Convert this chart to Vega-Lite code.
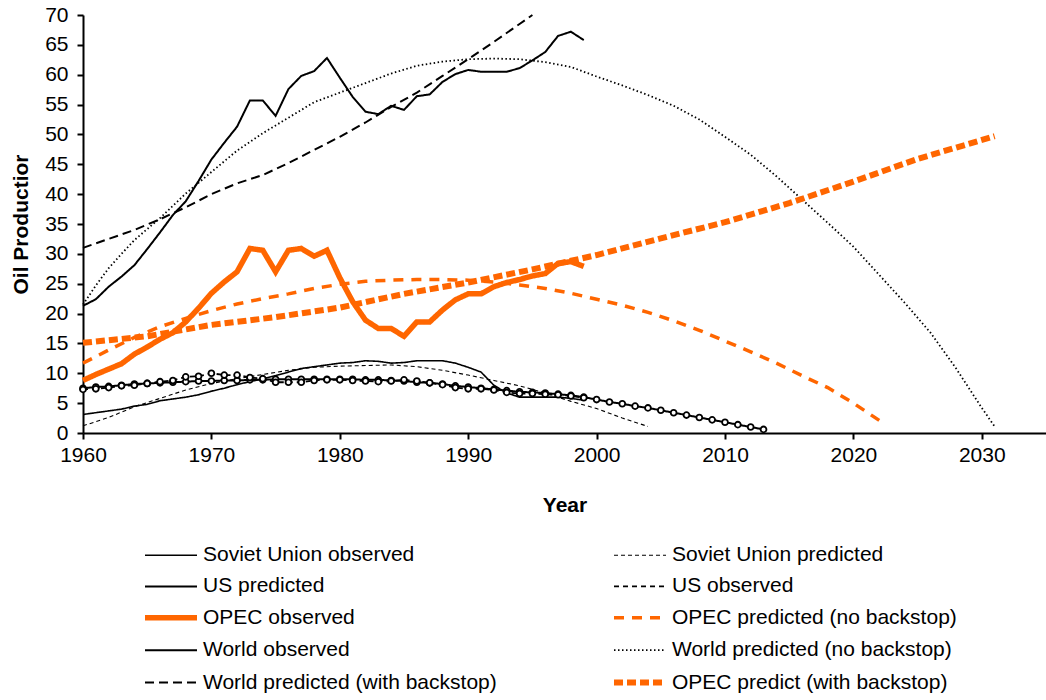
{
  "$schema": "https://vega.github.io/schema/vega-lite/v6.json",
  "width": 963,
  "height": 418,
  "autosize": {"type": "none"},
  "padding": {"left": 83, "top": 15, "right": 0, "bottom": 267},
  "background": "white",
  "config": {
    "view": {"stroke": null},
    "font": "Liberation Sans",
    "axis": {
      "domainColor": "black", "domainWidth": 2, "tickColor": "black", "tickWidth": 2, "tickSize": 6,
      "labelFont": "Liberation Sans", "labelFontSize": 21, "labelColor": "black",
      "titleFont": "Liberation Sans", "titleFontSize": 21, "titleFontWeight": "bold", "titleColor": "black",
      "grid": false
    }
  },
  "data": {"values": [
    {"s":"Soviet Union observed","x":1960,"v":3.1},{"s":"Soviet Union observed","x":1961,"v":3.4},{"s":"Soviet Union observed","x":1962,"v":3.7},{"s":"Soviet Union observed","x":1963,"v":4.0},{"s":"Soviet Union observed","x":1964,"v":4.5},{"s":"Soviet Union observed","x":1965,"v":4.8},{"s":"Soviet Union observed","x":1966,"v":5.4},{"s":"Soviet Union observed","x":1967,"v":5.7},{"s":"Soviet Union observed","x":1968,"v":6.0},{"s":"Soviet Union observed","x":1969,"v":6.4},{"s":"Soviet Union observed","x":1970,"v":7.0},{"s":"Soviet Union observed","x":1971,"v":7.5},{"s":"Soviet Union observed","x":1972,"v":8.1},{"s":"Soviet Union observed","x":1973,"v":8.6},{"s":"Soviet Union observed","x":1974,"v":9.1},{"s":"Soviet Union observed","x":1975,"v":9.6},{"s":"Soviet Union observed","x":1976,"v":10.2},{"s":"Soviet Union observed","x":1977,"v":10.8},{"s":"Soviet Union observed","x":1978,"v":11.1},{"s":"Soviet Union observed","x":1979,"v":11.4},{"s":"Soviet Union observed","x":1980,"v":11.7},{"s":"Soviet Union observed","x":1981,"v":11.8},{"s":"Soviet Union observed","x":1982,"v":12.1},{"s":"Soviet Union observed","x":1983,"v":12.0},{"s":"Soviet Union observed","x":1984,"v":11.7},{"s":"Soviet Union observed","x":1985,"v":11.8},{"s":"Soviet Union observed","x":1986,"v":12.1},{"s":"Soviet Union observed","x":1987,"v":12.1},{"s":"Soviet Union observed","x":1988,"v":12.1},{"s":"Soviet Union observed","x":1989,"v":11.7},{"s":"Soviet Union observed","x":1990,"v":11.0},{"s":"Soviet Union observed","x":1991,"v":10.2},{"s":"Soviet Union observed","x":1992,"v":8.0},{"s":"Soviet Union observed","x":1993,"v":6.7},{"s":"Soviet Union observed","x":1994,"v":6.0},{"s":"Soviet Union observed","x":1995,"v":6.0},{"s":"Soviet Union observed","x":1996,"v":6.0},{"s":"Soviet Union observed","x":1997,"v":6.0},{"s":"Soviet Union observed","x":1998,"v":5.8},{"s":"Soviet Union observed","x":1999,"v":5.5},

    {"s":"Soviet Union predicted","x":1960,"v":1.2},{"s":"Soviet Union predicted","x":1962,"v":2.6},{"s":"Soviet Union predicted","x":1964,"v":4.4},{"s":"Soviet Union predicted","x":1966,"v":5.8},{"s":"Soviet Union predicted","x":1968,"v":7.2},{"s":"Soviet Union predicted","x":1970,"v":8.3},{"s":"Soviet Union predicted","x":1972,"v":9.1},{"s":"Soviet Union predicted","x":1974,"v":9.8},{"s":"Soviet Union predicted","x":1976,"v":10.5},{"s":"Soviet Union predicted","x":1978,"v":11.0},{"s":"Soviet Union predicted","x":1980,"v":11.2},{"s":"Soviet Union predicted","x":1982,"v":11.3},{"s":"Soviet Union predicted","x":1984,"v":11.4},{"s":"Soviet Union predicted","x":1986,"v":11.1},{"s":"Soviet Union predicted","x":1988,"v":10.5},{"s":"Soviet Union predicted","x":1990,"v":9.7},{"s":"Soviet Union predicted","x":1992,"v":8.8},{"s":"Soviet Union predicted","x":1994,"v":7.9},{"s":"Soviet Union predicted","x":1996,"v":6.7},{"s":"Soviet Union predicted","x":1998,"v":5.3},{"s":"Soviet Union predicted","x":2000,"v":4.1},{"s":"Soviet Union predicted","x":2002,"v":2.5},{"s":"Soviet Union predicted","x":2004,"v":1.1},

    {"s":"US predicted","x":1960,"v":7.5},{"s":"US predicted","x":1961,"v":7.7},{"s":"US predicted","x":1962,"v":7.8},{"s":"US predicted","x":1963,"v":8.0},{"s":"US predicted","x":1964,"v":8.2},{"s":"US predicted","x":1965,"v":8.3},{"s":"US predicted","x":1966,"v":8.4},{"s":"US predicted","x":1967,"v":8.5},{"s":"US predicted","x":1968,"v":8.6},{"s":"US predicted","x":1969,"v":8.7},{"s":"US predicted","x":1970,"v":8.7},{"s":"US predicted","x":1971,"v":8.8},{"s":"US predicted","x":1972,"v":8.8},{"s":"US predicted","x":1973,"v":8.9},{"s":"US predicted","x":1974,"v":8.9},{"s":"US predicted","x":1975,"v":9.0},{"s":"US predicted","x":1976,"v":9.0},{"s":"US predicted","x":1977,"v":9.0},{"s":"US predicted","x":1978,"v":9.0},{"s":"US predicted","x":1979,"v":9.0},{"s":"US predicted","x":1980,"v":9.0},{"s":"US predicted","x":1981,"v":9.0},{"s":"US predicted","x":1982,"v":8.9},{"s":"US predicted","x":1983,"v":8.9},{"s":"US predicted","x":1984,"v":8.8},{"s":"US predicted","x":1985,"v":8.7},{"s":"US predicted","x":1986,"v":8.5},{"s":"US predicted","x":1987,"v":8.4},{"s":"US predicted","x":1988,"v":8.2},{"s":"US predicted","x":1989,"v":7.9},{"s":"US predicted","x":1990,"v":7.7},{"s":"US predicted","x":1991,"v":7.5},{"s":"US predicted","x":1992,"v":7.3},{"s":"US predicted","x":1993,"v":7.1},{"s":"US predicted","x":1994,"v":6.9},{"s":"US predicted","x":1995,"v":6.8},{"s":"US predicted","x":1996,"v":6.7},{"s":"US predicted","x":1997,"v":6.5},{"s":"US predicted","x":1998,"v":6.3},{"s":"US predicted","x":1999,"v":6.0},{"s":"US predicted","x":2000,"v":5.6},{"s":"US predicted","x":2001,"v":5.2},{"s":"US predicted","x":2002,"v":4.9},{"s":"US predicted","x":2003,"v":4.5},{"s":"US predicted","x":2004,"v":4.2},{"s":"US predicted","x":2005,"v":3.8},{"s":"US predicted","x":2006,"v":3.4},{"s":"US predicted","x":2007,"v":3.0},{"s":"US predicted","x":2008,"v":2.6},{"s":"US predicted","x":2009,"v":2.2},{"s":"US predicted","x":2010,"v":1.8},{"s":"US predicted","x":2011,"v":1.4},{"s":"US predicted","x":2012,"v":1.0},{"s":"US predicted","x":2013,"v":0.6},

    {"s":"US observed","x":1960,"v":7.3},{"s":"US observed","x":1961,"v":7.4},{"s":"US observed","x":1962,"v":7.6},{"s":"US observed","x":1963,"v":7.9},{"s":"US observed","x":1964,"v":8.0},{"s":"US observed","x":1965,"v":8.3},{"s":"US observed","x":1966,"v":8.6},{"s":"US observed","x":1967,"v":8.8},{"s":"US observed","x":1968,"v":9.4},{"s":"US observed","x":1969,"v":9.5},{"s":"US observed","x":1970,"v":10.0},{"s":"US observed","x":1971,"v":9.7},{"s":"US observed","x":1972,"v":9.7},{"s":"US observed","x":1973,"v":9.3},{"s":"US observed","x":1974,"v":9.1},{"s":"US observed","x":1975,"v":8.5},{"s":"US observed","x":1976,"v":8.5},{"s":"US observed","x":1977,"v":8.5},{"s":"US observed","x":1978,"v":8.8},{"s":"US observed","x":1979,"v":8.9},{"s":"US observed","x":1980,"v":8.9},{"s":"US observed","x":1981,"v":8.8},{"s":"US observed","x":1982,"v":8.7},{"s":"US observed","x":1983,"v":8.6},{"s":"US observed","x":1984,"v":8.7},{"s":"US observed","x":1985,"v":8.9},{"s":"US observed","x":1986,"v":8.7},{"s":"US observed","x":1987,"v":8.4},{"s":"US observed","x":1988,"v":8.1},{"s":"US observed","x":1989,"v":7.6},{"s":"US observed","x":1990,"v":7.4},{"s":"US observed","x":1991,"v":7.4},{"s":"US observed","x":1992,"v":7.2},{"s":"US observed","x":1993,"v":6.8},{"s":"US observed","x":1994,"v":6.6},{"s":"US observed","x":1995,"v":6.6},{"s":"US observed","x":1996,"v":6.5},{"s":"US observed","x":1997,"v":6.4},{"s":"US observed","x":1998,"v":6.2},{"s":"US observed","x":1999,"v":5.9},

    {"s":"OPEC observed","x":1960,"v":8.8},{"s":"OPEC observed","x":1961,"v":9.8},{"s":"OPEC observed","x":1962,"v":10.7},{"s":"OPEC observed","x":1963,"v":11.6},{"s":"OPEC observed","x":1964,"v":13.2},{"s":"OPEC observed","x":1965,"v":14.4},{"s":"OPEC observed","x":1966,"v":15.7},{"s":"OPEC observed","x":1967,"v":16.8},{"s":"OPEC observed","x":1968,"v":18.6},{"s":"OPEC observed","x":1969,"v":20.9},{"s":"OPEC observed","x":1970,"v":23.4},{"s":"OPEC observed","x":1971,"v":25.3},{"s":"OPEC observed","x":1972,"v":27.0},{"s":"OPEC observed","x":1973,"v":30.9},{"s":"OPEC observed","x":1974,"v":30.6},{"s":"OPEC observed","x":1975,"v":27.0},{"s":"OPEC observed","x":1976,"v":30.6},{"s":"OPEC observed","x":1977,"v":30.9},{"s":"OPEC observed","x":1978,"v":29.6},{"s":"OPEC observed","x":1979,"v":30.6},{"s":"OPEC observed","x":1980,"v":26.0},{"s":"OPEC observed","x":1981,"v":22.0},{"s":"OPEC observed","x":1982,"v":18.9},{"s":"OPEC observed","x":1983,"v":17.5},{"s":"OPEC observed","x":1984,"v":17.5},{"s":"OPEC observed","x":1985,"v":16.2},{"s":"OPEC observed","x":1986,"v":18.6},{"s":"OPEC observed","x":1987,"v":18.6},{"s":"OPEC observed","x":1988,"v":20.6},{"s":"OPEC observed","x":1989,"v":22.3},{"s":"OPEC observed","x":1990,"v":23.3},{"s":"OPEC observed","x":1991,"v":23.3},{"s":"OPEC observed","x":1992,"v":24.5},{"s":"OPEC observed","x":1993,"v":25.2},{"s":"OPEC observed","x":1994,"v":25.7},{"s":"OPEC observed","x":1995,"v":26.3},{"s":"OPEC observed","x":1996,"v":26.7},{"s":"OPEC observed","x":1997,"v":28.4},{"s":"OPEC observed","x":1998,"v":28.7},{"s":"OPEC observed","x":1999,"v":27.9},

    {"s":"OPEC predicted (no backstop)","x":1960,"v":11.7},{"s":"OPEC predicted (no backstop)","x":1962,"v":13.9},{"s":"OPEC predicted (no backstop)","x":1964,"v":16.0},{"s":"OPEC predicted (no backstop)","x":1966,"v":17.8},{"s":"OPEC predicted (no backstop)","x":1968,"v":19.2},{"s":"OPEC predicted (no backstop)","x":1970,"v":20.5},{"s":"OPEC predicted (no backstop)","x":1972,"v":21.6},{"s":"OPEC predicted (no backstop)","x":1974,"v":22.5},{"s":"OPEC predicted (no backstop)","x":1976,"v":23.3},{"s":"OPEC predicted (no backstop)","x":1978,"v":24.2},{"s":"OPEC predicted (no backstop)","x":1980,"v":24.9},{"s":"OPEC predicted (no backstop)","x":1982,"v":25.4},{"s":"OPEC predicted (no backstop)","x":1984,"v":25.6},{"s":"OPEC predicted (no backstop)","x":1986,"v":25.7},{"s":"OPEC predicted (no backstop)","x":1988,"v":25.7},{"s":"OPEC predicted (no backstop)","x":1990,"v":25.6},{"s":"OPEC predicted (no backstop)","x":1992,"v":25.3},{"s":"OPEC predicted (no backstop)","x":1994,"v":24.8},{"s":"OPEC predicted (no backstop)","x":1996,"v":24.2},{"s":"OPEC predicted (no backstop)","x":1998,"v":23.4},{"s":"OPEC predicted (no backstop)","x":2000,"v":22.4},{"s":"OPEC predicted (no backstop)","x":2002,"v":21.4},{"s":"OPEC predicted (no backstop)","x":2004,"v":20.2},{"s":"OPEC predicted (no backstop)","x":2006,"v":18.8},{"s":"OPEC predicted (no backstop)","x":2008,"v":17.2},{"s":"OPEC predicted (no backstop)","x":2010,"v":15.4},{"s":"OPEC predicted (no backstop)","x":2012,"v":13.6},{"s":"OPEC predicted (no backstop)","x":2014,"v":11.7},{"s":"OPEC predicted (no backstop)","x":2016,"v":9.6},{"s":"OPEC predicted (no backstop)","x":2018,"v":7.6},{"s":"OPEC predicted (no backstop)","x":2020,"v":5.0},{"s":"OPEC predicted (no backstop)","x":2022.3,"v":1.7},

    {"s":"World observed","x":1960,"v":21.3},{"s":"World observed","x":1961,"v":22.4},{"s":"World observed","x":1962,"v":24.5},{"s":"World observed","x":1963,"v":26.2},{"s":"World observed","x":1964,"v":28.1},{"s":"World observed","x":1965,"v":30.8},{"s":"World observed","x":1966,"v":33.6},{"s":"World observed","x":1967,"v":36.5},{"s":"World observed","x":1968,"v":38.8},{"s":"World observed","x":1969,"v":42.2},{"s":"World observed","x":1970,"v":45.8},{"s":"World observed","x":1971,"v":48.6},{"s":"World observed","x":1972,"v":51.3},{"s":"World observed","x":1973,"v":55.7},{"s":"World observed","x":1974,"v":55.7},{"s":"World observed","x":1975,"v":53.1},{"s":"World observed","x":1976,"v":57.6},{"s":"World observed","x":1977,"v":59.8},{"s":"World observed","x":1978,"v":60.6},{"s":"World observed","x":1979,"v":62.8},{"s":"World observed","x":1980,"v":59.5},{"s":"World observed","x":1981,"v":56.3},{"s":"World observed","x":1982,"v":53.8},{"s":"World observed","x":1983,"v":53.4},{"s":"World observed","x":1984,"v":54.8},{"s":"World observed","x":1985,"v":54.1},{"s":"World observed","x":1986,"v":56.4},{"s":"World observed","x":1987,"v":56.7},{"s":"World observed","x":1988,"v":58.8},{"s":"World observed","x":1989,"v":60.1},{"s":"World observed","x":1990,"v":60.8},{"s":"World observed","x":1991,"v":60.5},{"s":"World observed","x":1992,"v":60.5},{"s":"World observed","x":1993,"v":60.5},{"s":"World observed","x":1994,"v":61.1},{"s":"World observed","x":1995,"v":62.4},{"s":"World observed","x":1996,"v":63.8},{"s":"World observed","x":1997,"v":66.5},{"s":"World observed","x":1998,"v":67.2},{"s":"World observed","x":1999,"v":65.8},

    {"s":"World predicted (no backstop)","x":1960,"v":21.5},{"s":"World predicted (no backstop)","x":1961,"v":24.7},{"s":"World predicted (no backstop)","x":1962,"v":27.6},{"s":"World predicted (no backstop)","x":1963,"v":30.0},{"s":"World predicted (no backstop)","x":1964,"v":32.3},{"s":"World predicted (no backstop)","x":1966,"v":36.0},{"s":"World predicted (no backstop)","x":1968,"v":40.1},{"s":"World predicted (no backstop)","x":1970,"v":43.7},{"s":"World predicted (no backstop)","x":1972,"v":47.3},{"s":"World predicted (no backstop)","x":1974,"v":50.2},{"s":"World predicted (no backstop)","x":1976,"v":52.8},{"s":"World predicted (no backstop)","x":1978,"v":55.4},{"s":"World predicted (no backstop)","x":1980,"v":57.0},{"s":"World predicted (no backstop)","x":1982,"v":58.6},{"s":"World predicted (no backstop)","x":1984,"v":60.2},{"s":"World predicted (no backstop)","x":1986,"v":61.5},{"s":"World predicted (no backstop)","x":1988,"v":62.2},{"s":"World predicted (no backstop)","x":1990,"v":62.6},{"s":"World predicted (no backstop)","x":1992,"v":62.7},{"s":"World predicted (no backstop)","x":1994,"v":62.6},{"s":"World predicted (no backstop)","x":1996,"v":62.1},{"s":"World predicted (no backstop)","x":1998,"v":61.3},{"s":"World predicted (no backstop)","x":2000,"v":59.7},{"s":"World predicted (no backstop)","x":2002,"v":58.2},{"s":"World predicted (no backstop)","x":2004,"v":56.6},{"s":"World predicted (no backstop)","x":2006,"v":54.8},{"s":"World predicted (no backstop)","x":2008,"v":52.5},{"s":"World predicted (no backstop)","x":2010,"v":49.6},{"s":"World predicted (no backstop)","x":2012,"v":46.6},{"s":"World predicted (no backstop)","x":2014,"v":43.0},{"s":"World predicted (no backstop)","x":2016,"v":39.1},{"s":"World predicted (no backstop)","x":2018,"v":35.2},{"s":"World predicted (no backstop)","x":2020,"v":31.2},{"s":"World predicted (no backstop)","x":2022,"v":26.5},{"s":"World predicted (no backstop)","x":2024,"v":21.8},{"s":"World predicted (no backstop)","x":2026,"v":16.8},{"s":"World predicted (no backstop)","x":2028,"v":10.8},{"s":"World predicted (no backstop)","x":2030,"v":4.2},{"s":"World predicted (no backstop)","x":2031,"v":1.1},

    {"s":"World predicted (with backstop)","x":1960,"v":31.0},{"s":"World predicted (with backstop)","x":1962,"v":32.5},{"s":"World predicted (with backstop)","x":1964,"v":34.0},{"s":"World predicted (with backstop)","x":1966,"v":35.8},{"s":"World predicted (with backstop)","x":1968,"v":37.8},{"s":"World predicted (with backstop)","x":1970,"v":40.0},{"s":"World predicted (with backstop)","x":1972,"v":41.8},{"s":"World predicted (with backstop)","x":1974,"v":43.2},{"s":"World predicted (with backstop)","x":1976,"v":45.2},{"s":"World predicted (with backstop)","x":1978,"v":47.4},{"s":"World predicted (with backstop)","x":1980,"v":49.6},{"s":"World predicted (with backstop)","x":1982,"v":52.0},{"s":"World predicted (with backstop)","x":1984,"v":54.6},{"s":"World predicted (with backstop)","x":1986,"v":57.0},{"s":"World predicted (with backstop)","x":1988,"v":59.8},{"s":"World predicted (with backstop)","x":1990,"v":62.6},{"s":"World predicted (with backstop)","x":1992,"v":65.5},{"s":"World predicted (with backstop)","x":1994,"v":68.5},{"s":"World predicted (with backstop)","x":1995,"v":70.0},

    {"s":"OPEC predict (with backstop)","x":1960,"v":15.1},{"s":"OPEC predict (with backstop)","x":1965,"v":16.2},{"s":"OPEC predict (with backstop)","x":1970,"v":18.1},{"s":"OPEC predict (with backstop)","x":1975,"v":19.4},{"s":"OPEC predict (with backstop)","x":1980,"v":21.0},{"s":"OPEC predict (with backstop)","x":1985,"v":23.3},{"s":"OPEC predict (with backstop)","x":1990,"v":25.2},{"s":"OPEC predict (with backstop)","x":1995,"v":27.4},{"s":"OPEC predict (with backstop)","x":2000,"v":29.8},{"s":"OPEC predict (with backstop)","x":2005,"v":32.6},{"s":"OPEC predict (with backstop)","x":2010,"v":35.3},{"s":"OPEC predict (with backstop)","x":2015,"v":38.5},{"s":"OPEC predict (with backstop)","x":2020,"v":42.1},{"s":"OPEC predict (with backstop)","x":2025,"v":45.9},{"s":"OPEC predict (with backstop)","x":2031,"v":49.7}
  ]},
  "encoding": {
    "x": {"field": "x", "type": "quantitative",
      "scale": {"domain": [1960, 2035], "nice": false, "zero": false},
      "axis": {"title": "Year", "values": [1960, 1970, 1980, 1990, 2000, 2010, 2020, 2030], "format": "d",
        "labelFlush": false, "labelOverlap": false, "labelPadding": 5, "titlePadding": 29}},
    "y": {"field": "v", "type": "quantitative",
      "scale": {"domain": [0, 70], "nice": false},
      "axis": {"title": "Oil Productior", "values": [0, 5, 10, 15, 20, 25, 30, 35, 40, 45, 50, 55, 60, 65, 70],
        "labelPadding": 9, "titlePadding": 13}}
  },
  "layer": [
    {
      "mark": {"type": "line", "strokeCap": "butt"},
      "encoding": {
        "color": {"field": "s", "type": "nominal",
          "scale": {
            "domain": ["Soviet Union observed", "US predicted", "OPEC observed", "World observed", "World predicted (with backstop)", "Soviet Union predicted", "US observed", "OPEC predicted (no backstop)", "World predicted (no backstop)", "OPEC predict (with backstop)"],
            "range": ["#000000", "#000000", "#FF6600", "#000000", "#000000", "#000000", "#000000", "#FF6600", "#000000", "#FF6600"]},
          "legend": {"orient": "none", "legendX": 62, "legendY": 529.5, "columns": 2, "title": null,
            "symbolType": "M-2.1,0H8.3", "symbolSize": 100, "labelFont": "Liberation Sans", "labelFontSize": 21,
            "labelColor": "black", "labelLimit": 400, "labelOffset": 37, "rowPadding": 9.4, "columnPadding": 105,
            "padding": 0, "symbolOffset": 0}},
        "strokeDash": {"field": "s", "type": "nominal",
          "scale": {
            "domain": ["Soviet Union observed", "US predicted", "OPEC observed", "World observed", "World predicted (with backstop)", "Soviet Union predicted", "US observed", "OPEC predicted (no backstop)", "World predicted (no backstop)", "OPEC predict (with backstop)"],
            "range": [[1, 0], [1, 0], [1, 0], [1, 0], [9, 5], [4, 3], [5, 4], [10, 8], [1.5, 2.5], [9, 4]]}},
        "strokeWidth": {"field": "s", "type": "nominal",
          "scale": {"type": "ordinal",
            "domain": ["Soviet Union observed", "US predicted", "OPEC observed", "World observed", "World predicted (with backstop)", "Soviet Union predicted", "US observed", "OPEC predicted (no backstop)", "World predicted (no backstop)", "OPEC predict (with backstop)"],
            "range": [1.6, 2, 5.5, 2, 2, 1.1, 1.8, 3.5, 1.8, 6]}}
      }
    },
    {
      "transform": [{"filter": {"field": "s", "oneOf": ["US predicted", "US observed"]}}],
      "mark": {"type": "point", "shape": "circle", "filled": true, "fill": "white", "stroke": "black", "strokeWidth": 1.8, "size": 34, "opacity": 1}
    }
  ]
}
